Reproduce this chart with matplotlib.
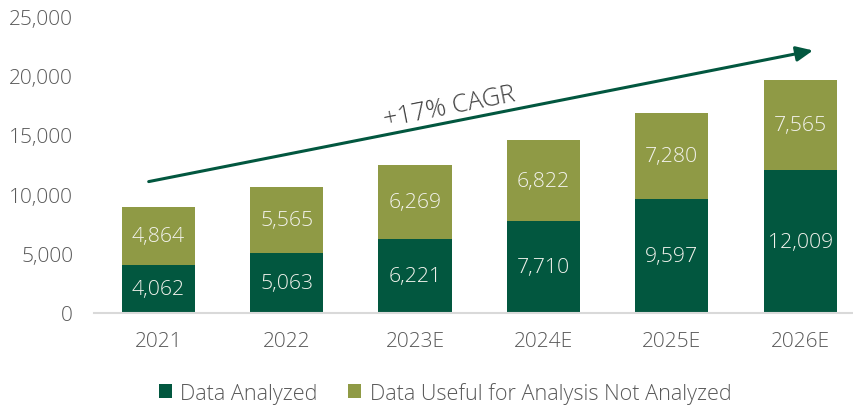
import matplotlib
matplotlib.use("Agg")
import matplotlib.pyplot as plt
from matplotlib.ticker import FuncFormatter

categories = ["2021", "2022", "2023E", "2024E", "2025E", "2026E"]
analyzed = [4062, 5063, 6221, 7710, 9597, 12009]
not_analyzed = [4864, 5565, 6269, 6822, 7280, 7565]
series_names = ["Data Analyzed", "Data Useful for Analysis Not Analyzed"]

dark = "#02573F"
olive = "#8F9A45"
gray = "#595959"

plt.rcParams['font.family'] = ['Open Sans', 'DejaVu Sans']
plt.rcParams['font.weight'] = 'light'

fig = plt.figure(figsize=(8.54, 4.06), dpi=100)
ax = fig.add_axes([94/854, 92/406, (852-94)/854, (314-17)/406])

x = list(range(len(categories)))
w = 0.57
b1 = ax.bar(x, analyzed, w, color=dark, label=series_names[0], zorder=2)
b2 = ax.bar(x, not_analyzed, w, bottom=analyzed, color=olive, label=series_names[1], zorder=2)

for i in x:
    ax.text(i, analyzed[i] / 2, f"{analyzed[i]:,}", ha="center", va="center",
            color="#F2F2EC", fontsize=15.3, fontweight="light")
    ax.text(i, analyzed[i] + not_analyzed[i] / 2, f"{not_analyzed[i]:,}", ha="center", va="center",
            color="#F2F2EC", fontsize=15.3, fontweight="light")

ax.set_xlim(-0.5, -0.5 + (852-94)/128.4)
ax.set_ylim(0, 25000)
ax.set_yticks(range(0, 25001, 5000))
ax.yaxis.set_major_formatter(FuncFormatter(lambda v, p: f"{int(v):,}"))
ax.set_xticks(x)
ax.set_xticklabels(categories)
ax.tick_params(axis="both", length=0, labelsize=15, labelcolor=gray)
ax.tick_params(axis="x", pad=13)
ax.tick_params(axis="y", pad=15)
for s in ["top", "right", "left"]:
    ax.spines[s].set_visible(False)
ax.spines["bottom"].set_color("#D9D9D9")
ax.spines["bottom"].set_linewidth(1.5)

ax.annotate("", xy=(5.10, 22100), xytext=(-0.074, 11060),
            arrowprops=dict(arrowstyle="-|>,head_length=1.0,head_width=0.45", color=dark, lw=2.2,
                            shrinkA=0, shrinkB=0), annotation_clip=False)
ax.text(2.27, 17400, "+17% CAGR", rotation=11.2, ha="center", va="center",
        color="#404040", fontsize=18.2, fontweight="light", rotation_mode="anchor")

fig.legend(handles=[b1, b2], labels=series_names, loc="center", bbox_to_anchor=(445/854, 12/406),
           ncol=2, frameon=False, fontsize=15.6, labelcolor=gray, handlelength=0.6, handleheight=0.6,
           handletextpad=0.4, columnspacing=1.4)

fig.savefig("out.png", dpi=100)
